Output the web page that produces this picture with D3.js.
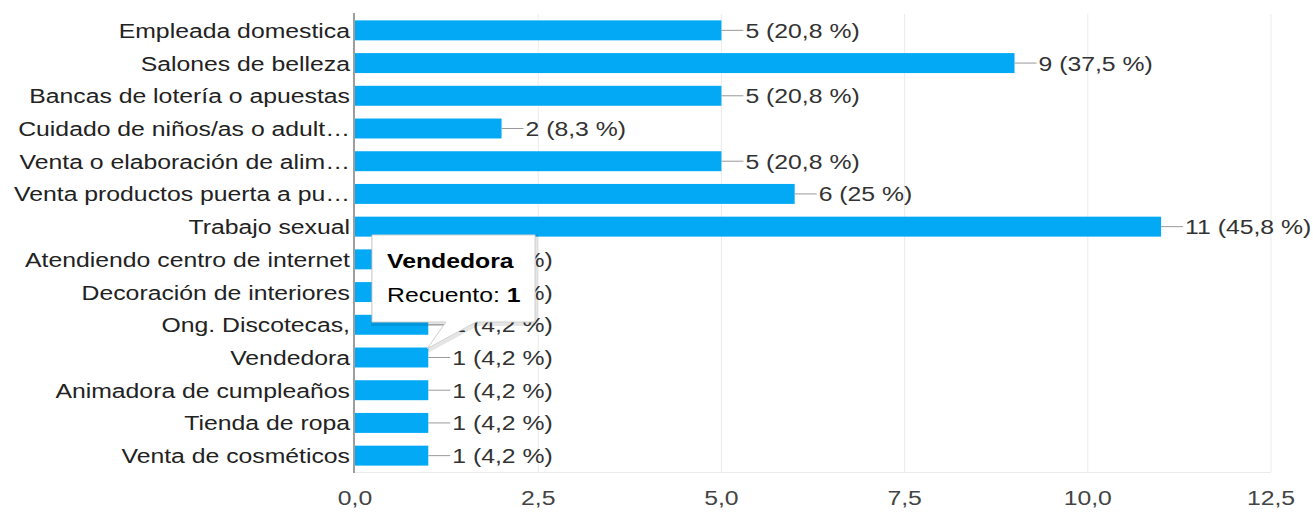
<!DOCTYPE html>
<html>
<head>
<meta charset="utf-8">
<script src="https://cdn.jsdelivr.net/npm/d3@7"></script>
<style>
  body { margin: 0; background: #fff; }
  svg text { font-family: "Liberation Sans", Arial, sans-serif; font-size: 21px; }
</style>
</head>
<body>
<svg class="chart" width="1313" height="513"></svg>
<script>
const categories = [
  'Empleada domestica',
  'Salones de belleza',
  'Bancas de lotería o apuestas',
  'Cuidado de niños/as o adult…',
  'Venta o elaboración de alim…',
  'Venta productos puerta a pu…',
  'Trabajo sexual',
  'Atendiendo centro de internet',
  'Decoración de interiores',
  'Ong. Discotecas,',
  'Vendedora',
  'Animadora de cumpleaños',
  'Tienda de ropa',
  'Venta de cosméticos'
]
const counts = [5, 9, 5, 2, 5, 6, 11, 1, 1, 1, 1, 1, 1, 1]
const percents = ['20,8', '37,5', '20,8', '8,3', '20,8', '25', '45,8', '4,2', '4,2', '4,2', '4,2', '4,2', '4,2', '4,2']
const ticks = [0, 2.5, 5, 7.5, 10, 12.5]
const tipIndex = 10

const stretch = 'scale(1.18,1)'

const svg = d3.select('svg.chart')
const x = d3.scaleLinear().domain([0, 12.5]).range([355, 1271])
const y = d3.scaleBand().domain(categories).range([14, 472]).paddingInner(0.39).paddingOuter(0.195)

// grid
svg.selectAll('line.grid')
  .data(ticks.slice(1))
  .enter()
  .append('line')
  .attr('x1', d => x(d)).attr('x2', d => x(d))
  .attr('y1', 14).attr('y2', 472)
  .attr('stroke', '#ebebeb').attr('stroke-width', 1)

svg.append('line')
  .attr('x1', 355).attr('x2', 1271).attr('y1', 472.5).attr('y2', 472.5)
  .attr('stroke', '#ebebeb')

// tick labels
svg.selectAll('g.tick')
  .data(ticks)
  .enter()
  .append('g')
  .attr('transform', d => `translate(${x(d)}, 505) ${stretch}`)
  .append('text')
  .attr('text-anchor', 'middle')
  .attr('fill', '#444')
  .text(d => d3.format('.1f')(d).replace('.', ','))

const rows = svg.selectAll('g.row')
  .data(categories)
  .enter()
  .append('g')
  .attr('transform', d => `translate(0, ${y(d)})`)

rows.append('rect')
  .attr('x', x(0))
  .attr('y', 0)
  .attr('height', y.bandwidth())
  .attr('width', (d, i) => x(counts[i]) - x(0))
  .attr('fill', '#03a9f4')

rows.append('g')
  .attr('transform', `translate(350, ${y.bandwidth() / 2 + 7.5}) ${stretch}`)
  .append('text')
  .attr('text-anchor', 'end')
  .attr('fill', '#222')
  .text(d => d)

rows.append('line')
  .attr('x1', (d, i) => x(counts[i]))
  .attr('x2', (d, i) => x(counts[i]) + 22)
  .attr('y1', y.bandwidth() / 2)
  .attr('y2', y.bandwidth() / 2)
  .attr('stroke', '#999')

rows.append('g')
  .attr('transform', (d, i) => `translate(${x(counts[i]) + 24}, ${y.bandwidth() / 2 + 7.5}) ${stretch}`)
  .append('text')
  .attr('fill', '#333')
  .text((d, i) => `${counts[i]} (${percents[i]} %)`)

// axis line
svg.append('line')
  .attr('x1', 354).attr('x2', 354).attr('y1', 13).attr('y2', 473)
  .attr('stroke', '#9e9e9e').attr('stroke-width', 2)

// tooltip
const tipCat = categories[tipIndex]
const ax = x(counts[tipIndex]) - 1
const ay = y(tipCat) + 1
const tip = svg.append('g')
const bx = 372, by = 235, bw = 163, bh = 87
const shape = `M${bx},${by} H${bx + bw} V${by + bh} H${bx + 104} L${ax},${ay} L${bx + 74},${by + bh} H${bx} Z`
tip.append('path')
  .attr('d', shape)
  .attr('fill', 'none')
  .attr('stroke', 'rgba(0,0,0,0.10)')
  .attr('stroke-width', 4)
  .attr('transform', 'translate(1,2)')
tip.append('path')
  .attr('d', shape)
  .attr('fill', '#fff')
  .attr('stroke', '#d0d0d0')
  .attr('stroke-width', 1)
tip.append('g')
  .attr('transform', `translate(${bx + 15}, ${by + 33}) ${stretch}`)
  .append('text')
  .attr('font-weight', 'bold').attr('fill', '#000')
  .text(tipCat)
const t2 = tip.append('g')
  .attr('transform', `translate(${bx + 15}, ${by + 67}) ${stretch}`)
  .append('text')
  .attr('fill', '#000')
t2.append('tspan').text('Recuento: ')
t2.append('tspan').attr('font-weight', 'bold').text(counts[tipIndex])
</script>
</body>
</html>
